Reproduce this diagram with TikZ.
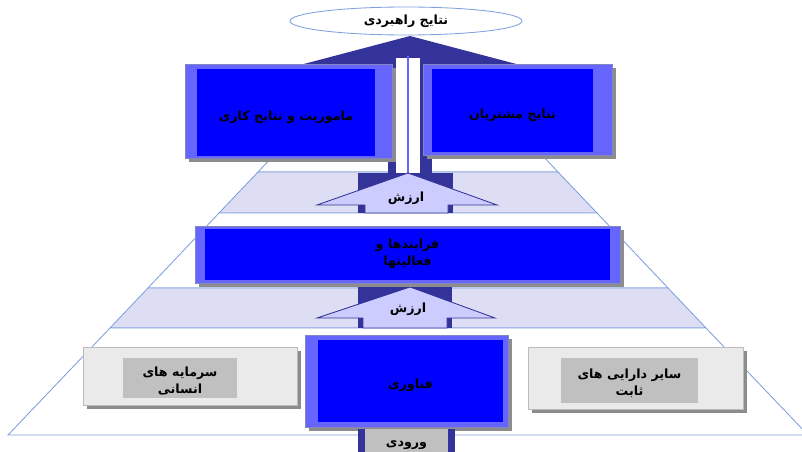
\documentclass[tikz,border=0pt]{standalone}
\usepackage{fontspec}
\newfontfamily\arabicfont[Script=Arabic]{DejaVu Sans}
\TeXXeTstate=1
\usepackage{tikz}
\usetikzlibrary{shapes.geometric,fit,calc}
\definecolor{navy}{HTML}{333399}
\definecolor{pureblue}{HTML}{0000FF}
\definecolor{periwinkle}{HTML}{6666FF}
\definecolor{lavender}{HTML}{DDDDF4}
\definecolor{arrowfill}{HTML}{CCCCFF}
\definecolor{pyrline}{HTML}{7F9FDF}
\definecolor{palegray}{HTML}{EAEAEA}
\definecolor{midgray}{HTML}{C0C0C0}
\definecolor{shadowgray}{HTML}{8C8C8C}
\tikzset{
  band/.style={draw=pyrline, fill=white, line width=0.6pt},
  shadeband/.style={draw=pyrline, fill=lavender, line width=0.6pt},
  frame/.style={fill=periwinkle, draw=navy!60, line width=0.4pt},
  grayframe/.style={fill=palegray, draw=shadowgray!60, line width=0.3pt},
  dropshadow/.style={fill=shadowgray},
  bluebox/.style={rectangle, fill=pureblue, inner sep=0pt, align=center,
                  font=\arabicfont\bfseries\small},
  graybox/.style={rectangle, fill=midgray, inner sep=0pt, align=center,
                  font=\arabicfont\bfseries\small},
  boxtext/.style={inner sep=0pt, align=center, font=\arabicfont\bfseries\small},
  valuearrow/.style={fill=arrowfill, draw=navy, line width=0.6pt},
  label/.style={font=\arabicfont\bfseries\small, inner sep=1pt},
  goal/.style={ellipse, draw=pyrline, fill=white, line width=0.6pt,
               minimum width=5.8cm, minimum height=0.7cm, inner sep=0pt,
               font=\arabicfont\bfseries\small}
}
\begin{document}
\begin{tikzpicture}[x=0.025cm, y=-0.025cm]
  \useasboundingbox (0,0) rectangle (802,452);
  \draw[band] (360,64) -- (456,64) -- (558,172) -- (258,172) -- cycle;
  \draw[shadeband] (258,172) -- (558,172) -- (597,213) -- (219,213) -- cycle;
  \draw[band] (219,213) -- (597,213) -- (668,288) -- (148,288) -- cycle;
  \draw[shadeband] (148,288) -- (668,288) -- (706,328) -- (110,328) -- cycle;
  \draw[band] (110,328) -- (706,328) -- (808,435) -- (8,435) -- cycle;

  \fill[navy] (410,36) -- (520,65) -- (300,65) -- cycle;
  \fill[navy] (388,60) rectangle (432,173);
  \fill[white] (396,58) rectangle (420,173);
  \draw[periwinkle, line width=0.8pt] (408,56) -- (408,173);
  \node[goal] (strategic) at (406,21) {\beginR نتایج راهبردی\endR};

  \fill[navy] (358,173) rectangle (453,213);
  \draw[valuearrow] (408,173) -- (497,205) -- (448,205) -- (448,213)
    -- (365,213) -- (365,205) -- (317,205) -- cycle;
  \node[label] (value1) at (406,198) {\beginR ارزش\endR};
  \fill[navy] (358,287) rectangle (452,328);
  \draw[valuearrow] (410,287) -- (495,318) -- (447,318) -- (447,328)
    -- (363,328) -- (363,318) -- (317,318) -- cycle;
  \node[label] (value2) at (408,309) {\beginR ارزش\endR};

  \fill[dropshadow] (189,68) rectangle (396,162);
  \filldraw[frame] (185,64) rectangle (392,158);
  \node[bluebox, fit={(197,69) (375,156)}] (mission) {};
  \node[boxtext] at ($(mission.center)+(0,5)$) {\beginR ماموریت و نتایج کاری\endR};
  \fill[dropshadow] (427,68) rectangle (616,159);
  \filldraw[frame] (423,64) rectangle (612,155);
  \node[bluebox, fit={(432,69) (593,152)}] (customers) {};
  \node[boxtext] at ($(customers.center)+(0,5)$) {\beginR نتایج مشتریان\endR};

  \fill[dropshadow] (199,230) rectangle (624,287);
  \filldraw[frame] (195,226) rectangle (620,283);
  \node[bluebox, fit={(205,229) (610,280)}] (process) {};
  \node[boxtext] at ($(process.center)+(0,-1)$) {\beginR فرایندها و\endR\\[1pt]\beginR فعالیتها\endR};

  \fill[dropshadow] (87,351) rectangle (301,409);
  \filldraw[grayframe] (83,347) rectangle (297,405);
  \node[graybox, fit={(123,358) (237,398)}] (human) {};
  \node[boxtext] at ($(human.center)+(0,3)$) {\beginR سرمایه های\endR\\[1pt]\beginR انسانی\endR};
  \fill[dropshadow] (309,339) rectangle (512,431);
  \filldraw[frame] (305,335) rectangle (508,427);
  \node[bluebox, fit={(318,340) (503,422)}] (tech) {};
  \node[boxtext] at ($(tech.center)+(0,4)$) {\beginR فناوری\endR};
  \fill[dropshadow] (532,351) rectangle (747,413);
  \filldraw[grayframe] (528,347) rectangle (743,409);
  \node[graybox, fit={(561,358) (698,403)}] (assets) {};
  \node[boxtext] at ($(assets.center)+(0,3)$) {\beginR سایر دارایی های\endR\\[1pt]\beginR ثابت\endR};

  \fill[navy] (358,429) rectangle (455,452);
  \node[graybox, fit={(365,429) (448,452)}] (input) {};
  \node[boxtext] at ($(input.center)+(0,5)$) {\beginR ورودی\endR};
\end{tikzpicture}
\end{document}
